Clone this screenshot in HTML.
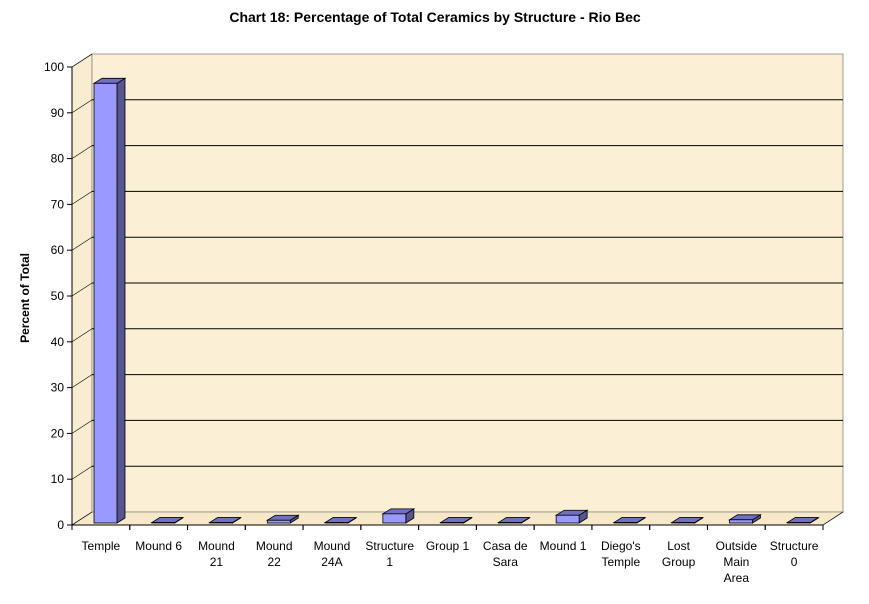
<!DOCTYPE html>
<html><head><meta charset="utf-8"><style>
body{margin:0;background:#fff;font-family:"Liberation Sans",Arial,sans-serif}
</style></head><body>
<svg width="869" height="599" viewBox="0 0 869 599" xmlns="http://www.w3.org/2000/svg">
<text x="435" y="22" text-anchor="middle" font-size="14" font-weight="bold">Chart 18: Percentage of Total Ceramics by Structure - Rio Bec</text>
<text transform="translate(29,298) rotate(-90)" text-anchor="middle" font-size="12" font-weight="bold">Percent of Total</text>
<g id="plot"></g>
</svg>
<script>
const categories=[["Temple"],["Mound 6"],["Mound","21"],["Mound","22"],["Mound","24A"],["Structure","1"],["Group 1"],["Casa de","Sara"],["Mound 1"],["Diego's","Temple"],["Lost","Group"],["Outside","Main","Area"],["Structure","0"]];
const values=[96,0.1,0.1,0.6,0.1,2.0,0.1,0.1,1.7,0.1,0.1,0.7,0.1];
const yTicks=[0,10,20,30,40,50,60,70,80,90,100];
const NS="http://www.w3.org/2000/svg";
const g=document.getElementById('plot');
const X0=72,X1=823,Y0=525,Ytop=67,DX=20,DY=-13;
const cw=(X1-X0)/categories.length;
const y=v=>Y0-(v/100)*(Y0-Ytop);
function mk(t,a,p){const e=document.createElementNS(NS,t);for(const k in a)e.setAttribute(k,a[k]);(p||g).appendChild(e);return e;}
// walls
let e;
e=mk('polygon',{points:`${X0},${Y0} ${X0+DX},${Y0+DY} ${X0+DX},${Ytop+DY} ${X0},${Ytop}`,fill:'#f9ecd0',stroke:'#888','stroke-width':0.8});


e=mk('rect',{x:X0+DX,y:Ytop+DY,width:X1-X0,height:Y0-Ytop,fill:'#fbf0d6',stroke:'#888','stroke-width':0.8});


e=mk('polygon',{points:`${X0},${Y0} ${X1},${Y0} ${X1+DX},${Y0+DY} ${X0+DX},${Y0+DY}`,fill:'#f7e8c8',stroke:'#888','stroke-width':0.8});


yTicks.forEach(t=>{
  const yy=y(t);
  if(t>0&&t<100){
    e=mk('line',{x1:X0+DX,y1:yy+DY,x2:X1+DX,y2:yy+DY,stroke:'#000','stroke-width':1});
    
    
  }
  mk('line',{x1:X0,y1:yy,x2:X0+DX,y2:yy+DY,stroke:'#000','stroke-width':0.6});
  mk('line',{x1:X0-5,y1:yy,x2:X0,y2:yy,stroke:'#000'});
  e=mk('text',{x:X0-8,y:yy+4,'text-anchor':'end','font-size':12});
  e.textContent=t;
  
  
});
mk('line',{x1:X0,y1:Ytop,x2:X0,y2:Y0,stroke:'#000'});
mk('line',{x1:X0,y1:Y0,x2:X1,y2:Y0,stroke:'#000'});
mk('line',{x1:X1,y1:Y0,x2:X1+DX,y2:Y0+DY,stroke:'#000','stroke-width':0.6});
const bw=23,bd=8,bdy=-5;
categories.forEach((c,i)=>{
  const cx=X0+i*cw;
  mk('line',{x1:cx+cw,y1:Y0,x2:cx+cw,y2:Y0+5,stroke:'#000'});
  mk('line',{x1:cx,y1:Y0,x2:cx,y2:Y0+5,stroke:'#000'});
  const bx=cx+22,base=Y0-2,top=base-(values[i]/100)*(Y0-Ytop);
  const bg=mk('g',{});
  
  
  mk('polygon',{points:`${bx+bw},${base} ${bx+bw+bd},${base+bdy} ${bx+bw+bd},${top+bdy} ${bx+bw},${top}`,fill:'#555590',stroke:'#000','stroke-width':0.8},bg);
  mk('polygon',{points:`${bx},${top} ${bx+bd},${top+bdy} ${bx+bw+bd},${top+bdy} ${bx+bw},${top}`,fill:'#7070c0',stroke:'#000','stroke-width':0.8},bg);
  mk('rect',{x:bx,y:top,width:bw,height:base-top,fill:'#9999ff',stroke:'#000','stroke-width':0.8},bg);
  const t=mk('text',{x:cx+cw/2,y:550,'text-anchor':'middle','font-size':12});
  
  
  c.forEach((l,j)=>{const s=mk('tspan',{x:cx+cw/2,dy:j?16:0},t);s.textContent=l;});
});
</script>
</body></html>
